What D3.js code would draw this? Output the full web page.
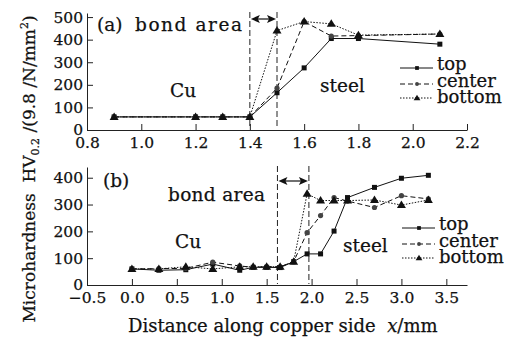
<!DOCTYPE html>
<html>
<head>
<meta charset="utf-8">
<script src="https://cdn.jsdelivr.net/npm/d3@7"></script>
<style>
body{margin:0;background:#fff}
svg text{font-family:"DejaVu Serif",serif;fill:#111}
</style>
</head>
<body>
<div id="chart"></div>
<script>
var width=518,height=338

var seriesNames=['top','center','bottom']

// panel (a)
var xA=[0.9,1.2,1.3,1.4,1.5,1.6,1.7,1.8,2.1]
var topA=[58,58,58,58,165,275,405,405,380]
var centerA=[58,58,58,58,185,480,416,418,425]
var bottomA=[58,58,58,58,440,480,470,420,425]
var xTicksA=[0.8,1.0,1.2,1.4,1.6,1.8,2.0,2.2]
var yTicksA=[0,100,200,300,400,500]
var bondA=[1.4,1.5]

// panel (b)
var xB=[0,0.3,0.6,0.9,1.2,1.35,1.5,1.65,1.8,1.95,2.1,2.25,2.4,2.7,3.0,3.3]
var topB=[60,55,57,78,55,66,66,65,87,116,116,201,326,364,398,409]
var centerB=[60,61,62,85,71,66,68,68,87,195,259,326,313,289,333,321]
var bottomB=[60,60,68,60,68,68,68,68,87,340,315,315,315,317,298,317]
var xTicksB=[-0.5,0,0.5,1,1.5,2,2.5,3,3.5]
var yTicksB=[0,100,200,300,400]
var bondB=[1.62,1.97]

var svg=d3.select('#chart').append('svg')
  .attr('width',width).attr('height',height)

var dashes={top:null,center:'5,3',bottom:'1.5,1.5'}

var drawMarker=(g,name,cx,cy,s=1)=>{
  if(name==='top'){
    g.append('rect').attr('x',cx-2.5*s).attr('y',cy-2.5*s).attr('width',5*s).attr('height',5*s).attr('fill','#111')
  }else if(name==='center'){
    g.append('circle').attr('cx',cx).attr('cy',cy).attr('r',2.6*s).attr('fill','#444')
  }else{
    g.append('path').attr('d',`M${cx},${cy-4.5*s}L${cx+4.5*s},${cy+3*s}L${cx-4.5*s},${cy+3*s}Z`).attr('fill','#111')
  }
}

var panel=cfg=>{
  var g=svg.append('g')
  var x=d3.scaleLinear().domain(cfg.xDomain).range([87,467])
  var y=d3.scaleLinear().domain(cfg.yDomain).range([cfg.yBottom,cfg.yTop])

  g.append('g').attr('transform',`translate(0,${cfg.yBottom})`)
    .call(d3.axisBottom(x).tickValues(cfg.xTicks).tickFormat(d3.format('.1f'))
      .tickSizeInner(-6).tickSizeOuter(0).tickPadding(7))
  g.append('g').attr('transform','translate(87,0)')
    .call(d3.axisLeft(y).tickValues(cfg.yTicks).tickFormat(d3.format('d'))
      .tickSizeInner(-6).tickSizeOuter(0).tickPadding(4))
  g.selectAll('.tick text').style('font-family','"DejaVu Serif",serif').style('font-size','15.5px')
    .attr('fill','#111').attr('stroke','#111').attr('stroke-width',0.25)
  g.selectAll('.domain,.tick line').attr('stroke','#222')

  // bond area boundaries
  cfg.bond.forEach(b=>{
    g.append('line').attr('x1',x(b)).attr('x2',x(b))
      .attr('y1',cfg.yTop-1).attr('y2',cfg.yBottom-1)
      .attr('stroke','#222').attr('stroke-dasharray','6,3')
  })
  var ya=cfg.arrowY,xl=x(cfg.bond[0])+1,xr=x(cfg.bond[1])-1
  g.append('line').attr('x1',xl+6).attr('x2',xr-6).attr('y1',ya).attr('y2',ya).attr('stroke','#111').attr('stroke-width',1.2)
  g.append('path').attr('d',`M${xl},${ya}L${xl+9},${ya-4}L${xl+7},${ya}L${xl+9},${ya+4}Z`).attr('fill','#111')
  g.append('path').attr('d',`M${xr},${ya}L${xr-9},${ya-4}L${xr-7},${ya}L${xr-9},${ya+4}Z`).attr('fill','#111')

  var line=d3.line().x(d=>x(d[0])).y(d=>y(d[1]))
  seriesNames.forEach(name=>{
    var pts=cfg.xs.map((v,i)=>[v,cfg.series[name][i]])
    g.append('path').datum(pts).attr('d',line).attr('fill','none')
      .attr('stroke','#111').attr('stroke-width',1)
      .attr('stroke-dasharray',dashes[name])
    pts.forEach(p=>drawMarker(g,name,x(p[0]),y(p[1])))
  })

  // legend
  seriesNames.forEach((name,i)=>{
    var ly=cfg.legendY[i]
    g.append('line').attr('x1',cfg.legendX).attr('x2',cfg.legendX+33).attr('y1',ly).attr('y2',ly)
      .attr('stroke','#111').attr('stroke-dasharray',dashes[name])
    drawMarker(g,name,cfg.legendX+17,ly,0.75)
    g.append('text').attr('x',cfg.legendX+37).attr('y',ly+cfg.legendDy[i]).style('font-size','18px')
      .attr('stroke','#111').attr('stroke-width',0.25).text(name)
  })

  cfg.labels.forEach(l=>{
    var t=g.append('text').attr('x',l[0]).attr('y',l[1]).style('font-size','18.5px')
      .attr('stroke','#111').attr('stroke-width',0.25)
      .attr('xml:space','preserve').text(l[2])
    if(l[3]) t.attr('textLength',l[3]).attr('lengthAdjust','spacing')
  })
}

panel({
  xDomain:[0.8,2.2],yDomain:[0,518],yBottom:130,yTop:13,
  xTicks:xTicksA,yTicks:yTicksA,bond:bondA,arrowY:19,
  xs:xA,series:{top:topA,center:centerA,bottom:bottomA},
  legendX:400,legendY:[68,84,98],legendDy:[2,3,5],
  labels:[[97,31,'(a)'],[135,31,'bond area',107],[170,97,'Cu'],[320,92,'steel']]
})

panel({
  xDomain:[-0.5,3.73],yDomain:[0,440],yBottom:285,yTop:167,
  xTicks:xTicksB,yTicks:yTicksB,bond:bondB,arrowY:181,
  xs:xB,series:{top:topB,center:centerB,bottom:bottomB},
  legendX:402,legendY:[228,244,258],legendDy:[2,3,5],
  labels:[[103,187,'(b)'],[168,201,'bond area',97],[175,248,'Cu'],[343,252,'steel']]
})

// axis titles
var xl=svg.append('text').attr('x',128).attr('y',332).style('font-size','18px')
  .attr('stroke','#111').attr('stroke-width',0.25).attr('xml:space','preserve')
xl.append('tspan').text('Distance along copper side  ')
xl.append('tspan').style('font-style','italic').text('x')
xl.append('tspan').text('/mm')

var yl=svg.append('text').attr('transform','translate(35,169) rotate(-90)')
  .attr('text-anchor','middle').style('font-size','17px').attr('xml:space','preserve')
  .attr('stroke','#111').attr('stroke-width',0.25)
yl.append('tspan').text('Microhardness  HV')
yl.append('tspan').attr('dy',4).style('font-size','11px').text('0.2')
yl.append('tspan').attr('dy',-4).text(' /(9.8 /N/mm')
yl.append('tspan').attr('dy',-7).style('font-size','11px').text('2')
yl.append('tspan').attr('dy',7).text(')')
</script>
</body>
</html>
